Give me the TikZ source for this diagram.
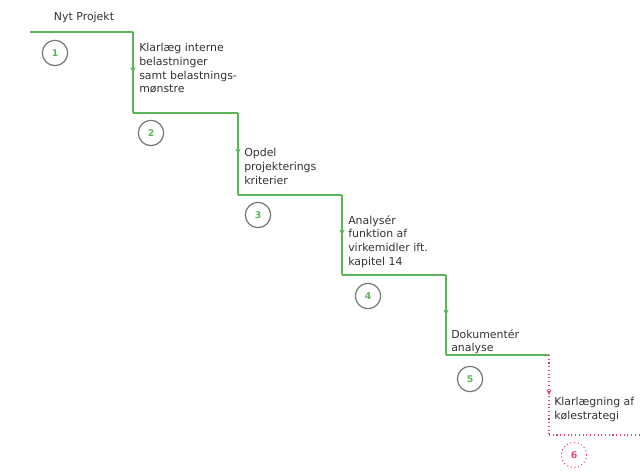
\documentclass[tikz,border=0pt]{standalone}
\usepackage{fontspec}
\setmainfont{DejaVu Sans}
\usetikzlibrary{decorations.markings,arrows.meta}
\definecolor{stepgreen}{HTML}{5DB55A}
\definecolor{ringgray}{HTML}{6E7A6E}
\definecolor{todored}{HTML}{E0457B}
\tikzset{
  flow/.style={draw=stepgreen,line width=1.1pt,
    postaction={decorate},
    decoration={markings,mark=at position 0.5 with {\arrow{Stealth[length=4pt,width=4pt]}}}},
  flowlevel/.style={draw=stepgreen,line width=1.1pt},
  pending/.style={draw=todored,line width=0.8pt,dotted,
    postaction={decorate},
    decoration={markings,mark=at position 0.5 with {\arrow[solid]{Stealth[length=4pt,width=4pt]}}}},
  pendinglevel/.style={draw=todored,line width=0.8pt,dotted},
  stepnum/.style={circle,draw=ringgray,line width=0.9pt,minimum size=19pt,inner sep=0pt,
    text=stepgreen,font=\fontsize{7}{8}\selectfont\bfseries},
  stepnumtodo/.style={circle,draw=todored,line width=0.8pt,dotted,minimum size=19pt,inner sep=0pt,
    text=todored,font=\fontsize{7}{8}\selectfont\bfseries},
  label/.style={anchor=north west,inner sep=0pt,align=left,text=black!80,
    font=\fontsize{8.2}{10.3}\selectfont},
}
\begin{document}
\begin{tikzpicture}[x=0.75pt,y=-0.75pt]
\useasboundingbox (0,0) rectangle (640,473);

% corners of the staircase
\coordinate (s0) at (30,32);
\coordinate (t1) at (133,32);
\coordinate (b1) at (133,113);
\coordinate (t2) at (238,113);
\coordinate (b2) at (238,195);
\coordinate (t3) at (342,195);
\coordinate (b3) at (342,275);
\coordinate (t4) at (446,275);
\coordinate (b4) at (446,355);
\coordinate (t5) at (549,355);
\coordinate (b5) at (549,435);
\coordinate (e6) at (640,435);

% treads and risers
\draw[flowlevel] (s0) -- (t1);
\draw[flow] (t1) -- (b1);
\draw[flowlevel] (b1) -- (t2);
\draw[flow] (t2) -- (b2);
\draw[flowlevel] (b2) -- (t3);
\draw[flow] (t3) -- (b3);
\draw[flowlevel] (b3) -- (t4);
\draw[flow] (t4) -- (b4);
\draw[flowlevel] (b4) -- (t5);
\draw[pending] (t5) -- (b5);
\draw[pendinglevel] (b5) -- (e6);

% step labels
\node[label,anchor=center] (l1) at (84,17) {Nyt Projekt};
\node[label] (l2) at (139,43) {Klarlæg interne\\belastninger\\samt belastnings-\\mønstre};
\node[label] (l3) at (244,148) {Opdel\\projekterings\\kriterier};
\node[label] (l4) at (348,215) {Analysér\\funktion af\\virkemidler ift.\\kapitel 14};
\node[label] (l5) at (451,329) {Dokumentér\\analyse};
\node[label] (l6) at (554,397) {Klarlægning af\\kølestrategi};

% step numbers
\node[stepnum] (n1) at (55,53) {1};
\node[stepnum] (n2) at (151,133) {2};
\node[stepnum] (n3) at (258,215) {3};
\node[stepnum] (n4) at (368,296) {4};
\node[stepnum] (n5) at (470,379) {5};
\node[stepnumtodo] (n6) at (574,455) {6};
\end{tikzpicture}
\end{document}
